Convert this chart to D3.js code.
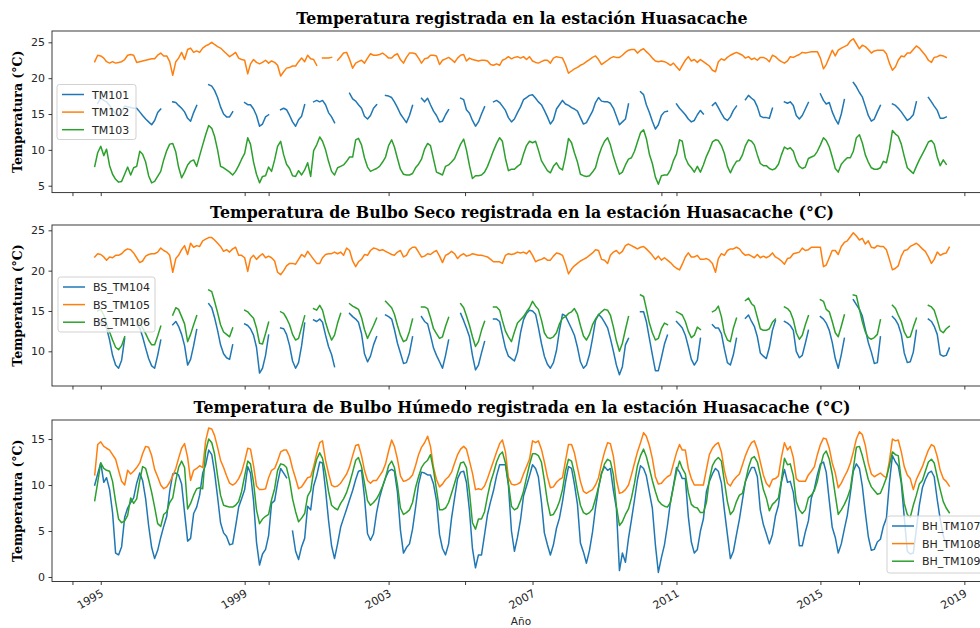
<!DOCTYPE html>
<html><head><meta charset="utf-8">
<script src="https://cdn.jsdelivr.net/npm/d3@7"></script>
<style>html,body{margin:0;padding:0;background:#fff;overflow:hidden}svg{display:block}</style>
</head><body>
<svg id="chart" width="980" height="628"></svg>
<script>
// ---------- DATA (monthly, first value = Nov 1994) ----------
const firstMonth = "1994-11";

const TM101 = [
 null,16.5,
 17.2,16.9,16.7,16.2,15.6,15.0,14.8,15.2,16.1,16.0,15.9,15.8,
 15.8,15.3,14.8,14.3,13.9,13.5,14.1,15.2,15.7,null,null,null,
 16.7,16.6,16.2,15.8,15.3,14.4,14.0,15.2,16.2,null,null,null,
 19.1,18.9,18.3,17.3,16.0,15.0,14.6,14.6,15.3,null,null,null,
 16.6,16.3,16.3,15.7,14.8,13.3,13.6,14.6,14.9,null,null,null,
 15.6,15.8,15.6,14.8,13.9,13.3,14.2,14.7,16.3,null,null,16.7,
 16.9,16.7,16.9,16.3,15.2,14.6,13.8,null,null,null,null,17.9,
 17.1,16.8,16.3,15.8,14.7,14.3,14.8,15.8,16.3,null,null,17.6,
 17.5,17.3,16.7,15.9,15.0,14.4,13.8,14.8,16.2,null,null,17.2,
 16.7,17.2,16.3,15.4,14.8,13.9,14.0,14.9,15.6,null,null,null,
 17.2,17.0,15.6,15.1,14.1,13.3,13.9,15.0,16.0,null,null,16.7,
 16.9,16.6,16.1,15.5,14.5,13.9,14.3,15.2,16.0,17.0,17.3,17.6,
 17.7,17.2,16.7,16.3,15.5,14.6,13.6,14.2,15.7,16.3,16.9,16.4,
 16.2,15.9,15.7,15.4,14.5,13.6,13.8,14.6,15.4,16.6,17.3,16.8,
 16.7,16.7,16.5,15.8,14.7,13.5,13.9,14.3,16.4,null,null,null,
 18.1,17.7,16.3,15.2,14.0,12.9,13.5,14.8,15.3,15.4,null,null,
 16.4,15.8,15.4,14.9,14.3,13.9,14.1,14.9,15.5,15.0,null,null,
 16.2,16.6,15.9,15.1,14.4,14.1,14.6,15.5,16.1,null,null,17.0,
 17.6,17.2,16.9,16.0,14.7,14.5,14.5,14.4,15.8,null,null,null,
 16.7,16.5,16.7,16.2,14.8,14.3,14.8,15.7,16.6,null,null,null,
 17.8,16.9,16.4,16.6,15.3,14.3,13.6,15.0,17.0,null,null,19.4,
 18.8,18.0,17.4,16.1,14.8,14.0,14.3,15.3,16.2,null,null,null,
 16.4,16.2,15.8,15.3,14.7,14.1,14.4,14.9,16.7,null,null,null,
 17.3,16.7,16.1,15.5,14.4,14.4,14.6,null
];
const TM102 = [
 22.3,23.2,
 23.1,22.8,22.3,22.1,22.3,22.1,22.2,22.3,22.6,23.2,23.3,23.2,
 22.2,22.3,22.4,22.5,22.6,22.7,22.7,23.2,23.5,23.1,23.1,22.3,
 20.4,22.3,22.8,23.6,22.6,24.0,24.2,23.6,23.8,23.6,24.2,24.5,
 24.7,25.0,24.7,24.4,24.2,23.8,23.4,23.0,23.3,23.6,22.8,22.6,
 22.5,20.6,22.0,22.6,22.2,22.0,22.2,22.5,22.1,22.4,22.2,21.8,
 20.3,20.9,21.4,21.5,21.7,21.7,22.3,22.8,22.3,23.2,22.7,22.6,
 21.8,null,22.8,22.8,22.8,22.9,null,22.5,23.0,23.5,23.6,22.6,
 21.4,22.1,22.3,22.5,22.1,22.8,23.4,23.2,23.2,23.3,23.5,23.2,
 22.8,22.8,23.2,23.4,22.6,22.1,22.9,23.5,23.5,23.4,22.8,22.1,
 22.7,22.8,23.2,23.2,23.1,21.9,22.5,22.7,22.9,22.6,22.2,22.8,
 23.2,23.3,22.4,22.8,22.6,22.5,22.4,22.5,22.5,22.4,21.9,21.8,
 22.0,21.8,22.5,22.7,23.0,22.7,22.9,23.0,22.8,23.0,22.6,23.0,
 22.4,22.2,22.1,22.3,22.5,22.5,22.1,22.8,23.0,22.9,22.8,21.9,
 20.7,21.0,21.3,21.5,21.8,22.0,22.3,22.6,22.9,23.1,22.6,21.9,
 22.2,22.5,22.8,23.0,22.9,22.9,23.2,23.6,23.9,24.0,24.0,23.5,
 23.9,24.1,23.7,23.3,22.8,22.4,22.3,22.4,22.3,22.1,21.8,22.1,
 21.6,21.1,21.8,22.5,23.0,22.4,22.6,22.2,22.6,22.3,22.0,21.7,
 21.1,20.9,22.3,22.7,22.5,22.9,23.2,23.4,23.6,23.4,23.2,22.8,
 23.0,22.6,22.8,22.5,22.9,22.9,22.7,22.3,23.2,23.0,22.6,22.3,
 22.1,22.4,23.0,22.9,23.1,23.3,23.6,23.5,23.6,23.7,23.7,23.7,
 22.8,21.3,21.9,22.9,23.9,23.1,23.9,24.2,24.4,24.6,25.2,25.5,
 24.8,24.1,24.6,24.4,24.0,23.5,23.8,23.9,23.9,23.9,23.4,22.1,
 21.1,21.6,22.5,23.1,23.0,23.5,23.5,24.0,24.5,24.2,23.7,23.2,
 22.5,22.2,22.9,23.0,23.2,23.1,22.9,null
];
const TM103 = [
 7.7,9.6,
 10.5,9.2,10.1,7.8,6.6,5.9,5.5,5.6,6.6,7.6,6.5,7.5,
 7.7,9.8,9.4,8.3,6.4,5.4,5.6,6.3,7.0,8.6,9.9,10.8,
 10.9,9.7,7.6,6.1,6.9,7.9,8.4,8.6,7.7,9.2,10.7,12.1,
 13.4,13.0,11.9,10.0,7.7,7.5,7.2,6.9,6.5,7.0,7.8,8.7,
 9.5,11.7,10.8,8.3,6.6,5.4,6.3,6.4,7.6,7.0,8.6,10.5,
 11.2,9.3,8.0,7.4,6.4,6.3,7.1,6.5,7.2,8.2,6.3,9.9,
 10.7,11.8,11.2,10.0,8.4,7.0,6.5,7.5,7.7,7.9,8.4,9.0,
 9.0,11.4,11.6,10.7,8.9,7.6,7.0,7.2,7.4,7.7,8.3,9.0,
 10.6,11.4,10.4,8.8,7.3,6.6,6.5,6.5,6.7,7.5,8.0,8.7,
 10.1,10.9,10.6,8.7,6.9,6.7,6.5,7.7,7.9,8.3,8.8,9.8,
 10.8,11.5,10.0,7.8,6.0,6.4,6.4,6.5,6.9,7.7,8.8,9.9,
 10.9,11.7,11.2,8.8,7.1,7.3,7.3,7.7,8.0,9.4,10.6,11.2,
 11.0,11.2,10.0,8.5,7.8,7.1,6.8,7.7,8.2,7.5,7.2,9.1,
 11.6,11.0,9.6,8.3,6.6,6.4,6.3,6.4,6.9,7.5,9.1,10.3,
 11.2,11.7,10.7,9.1,7.8,6.6,6.9,7.9,8.7,8.9,9.8,11.1,
 12.4,12.8,11.6,9.4,8.1,6.2,5.2,6.4,6.5,6.5,7.2,8.5,
 9.4,11.4,11.2,8.9,8.0,7.5,6.9,7.7,6.9,7.9,9.1,10.0,
 11.1,11.4,11.3,10.6,9.5,7.7,6.8,7.7,8.4,8.5,9.3,10.6,
 11.4,11.2,10.7,9.3,8.1,7.8,7.8,7.4,7.2,7.4,8.0,9.3,
 10.4,10.1,10.3,9.8,8.5,7.7,7.4,7.6,8.8,9.0,9.2,9.8,
 10.7,11.7,11.3,10.4,9.0,7.4,6.9,8.0,8.5,8.9,8.9,9.8,
 11.7,12.1,11.0,9.3,8.3,7.5,7.3,7.3,7.5,8.4,8.2,10.0,
 12.7,12.2,11.9,10.8,9.1,7.5,7.1,6.7,7.7,8.6,9.4,10.2,
 11.1,11.3,10.8,9.0,7.8,8.6,8.0,null
];
const BS_TM104 = [
 null,13.5,
 13.6,13.3,12.9,11.4,9.5,8.3,7.9,8.9,11.6,null,null,null,
 13.3,12.9,11.8,10.4,9.1,8.2,7.9,9.5,11.4,null,null,null,
 13.3,13.7,13.1,12.1,10.7,8.3,9.0,10.7,12.7,null,null,null,
 15.9,15.4,14.2,12.6,10.8,9.7,9.2,9.0,10.8,null,null,null,
 13.4,13.2,12.8,12.0,10.5,7.3,7.9,9.5,12.0,null,null,null,
 12.9,12.8,12.1,10.7,8.8,7.9,8.6,10.7,13.5,null,null,13.9,
 13.7,14.0,13.6,12.0,10.6,9.6,8.1,null,null,null,null,14.7,
 14.3,14.0,13.6,12.2,9.7,8.7,9.4,10.8,11.8,null,null,14.5,
 14.3,14.0,12.7,11.0,9.8,8.5,8.6,9.8,11.8,null,null,14.3,
 13.7,13.4,12.0,10.4,9.5,8.7,7.9,9.5,11.4,null,null,null,
 14.7,13.8,12.9,11.8,9.5,7.7,8.3,9.8,11.2,null,null,14.0,
 14.0,13.7,12.1,10.4,9.4,9.1,8.8,9.9,12.3,13.9,14.7,15.1,
 15.0,14.6,13.0,11.0,9.4,8.4,7.9,8.6,10.1,12.6,14.6,14.4,
 13.6,12.8,12.0,10.5,8.7,7.9,8.3,9.6,11.6,13.8,14.6,14.2,
 13.6,12.9,11.6,10.0,8.3,7.1,8.1,10.8,11.6,null,null,null,
 14.9,14.9,13.7,11.6,9.6,7.6,7.6,9.2,10.9,12.0,null,null,
 13.7,13.3,12.9,12.0,10.6,9.0,8.3,8.9,11.6,null,null,null,
 13.3,12.9,12.9,12.2,10.3,8.6,8.3,9.6,11.6,null,null,14.1,
 14.5,13.7,13.1,11.8,9.8,9.4,9.1,10.5,12.6,13.8,null,null,
 13.7,13.5,13.2,12.6,10.0,9.2,9.5,11.0,12.6,null,null,null,
 14.3,14.0,13.5,12.6,11.1,9.1,7.9,9.6,11.6,null,null,16.4,
 15.8,15.2,14.4,12.7,11.1,9.9,8.5,8.6,11.8,null,null,null,
 14.3,13.9,13.3,12.1,9.8,8.6,8.7,9.9,12.6,null,null,null,
 14.0,13.7,13.1,12.1,9.6,9.4,9.5,10.4
];
const BS_TM105 = [
 21.7,22.1,
 22.0,21.7,21.3,21.7,21.6,21.9,21.9,22.1,22.5,22.7,22.6,22.2,
 21.6,21.0,21.2,21.8,22.0,22.1,22.1,22.3,22.8,22.5,22.3,21.9,
 19.8,21.5,21.9,22.6,23.1,22.0,23.4,22.9,23.1,23.0,23.7,23.9,
 24.1,24.1,23.8,23.4,23.0,22.4,22.6,22.3,22.7,22.9,21.9,21.9,
 21.6,19.9,21.5,21.9,21.4,21.8,22.1,21.6,21.8,21.6,21.2,19.8,
 19.5,20.0,20.6,20.9,20.9,20.8,21.4,22.0,21.7,22.4,21.9,21.4,
 20.9,20.9,21.6,22.0,22.1,22.1,22.3,22.1,22.3,21.9,22.8,22.5,
 21.2,20.5,21.1,21.4,22.0,21.9,22.5,22.8,22.7,22.5,22.6,22.4,
 22.2,22.0,21.9,22.3,22.5,21.7,21.9,22.6,22.9,22.9,22.3,21.7,
 21.8,22.1,22.0,22.3,22.5,21.8,21.0,21.9,22.1,22.4,22.1,21.5,
 21.9,22.1,21.8,21.9,22.1,22.0,21.9,21.9,21.8,21.7,21.4,21.1,
 21.1,21.1,20.9,21.9,22.1,22.0,22.1,22.3,22.2,22.3,22.1,22.5,
 21.9,21.1,21.3,21.4,21.6,21.3,21.3,21.8,22.2,22.1,21.9,20.9,
 19.6,20.2,20.6,20.9,21.2,21.4,21.6,21.9,22.2,22.6,22.5,21.4,
 21.3,20.9,21.9,22.3,22.5,22.1,22.4,23.1,23.3,23.1,22.9,22.7,
 22.9,23.0,22.7,22.3,21.9,21.4,21.8,21.3,21.6,21.3,21.0,20.6,
 20.3,20.1,20.8,21.7,22.2,21.7,21.7,21.9,21.4,21.4,21.5,21.3,
 20.9,19.8,21.5,22.1,21.9,22.5,22.7,22.7,22.9,22.7,22.2,21.9,
 22.0,21.8,21.6,22.0,21.6,21.8,21.6,21.8,22.2,21.7,21.5,21.2,
 20.8,21.5,21.6,22.1,22.2,22.3,22.8,22.5,22.6,22.9,22.9,22.9,
 22.9,20.5,20.7,21.6,22.5,22.5,22.0,23.0,23.5,23.7,24.2,24.7,
 24.3,23.8,24.0,23.3,23.7,22.9,22.8,23.1,23.0,23.0,22.6,21.4,
 20.1,20.3,20.6,21.8,22.5,22.6,23.0,23.2,23.4,23.1,22.7,22.4,
 21.7,20.9,21.4,22.3,21.9,22.1,22.2,22.9
];
const BS_TM106 = [
 null,15.0,
 15.2,14.5,13.4,12.4,11.4,10.5,10.2,10.7,11.8,null,null,null,
 13.8,13.5,12.9,12.2,11.4,10.8,10.8,11.9,13.1,null,null,null,
 14.5,15.4,15.2,14.3,13.4,11.2,12.1,13.3,14.4,null,null,null,
 17.6,17.4,16.2,14.8,13.3,12.4,12.1,11.8,12.9,null,null,null,
 15.1,14.9,14.5,14.1,12.9,11.0,10.9,12.2,13.6,null,null,null,
 14.9,14.7,14.1,13.3,12.1,11.4,11.6,13.0,14.4,null,null,15.3,
 15.1,15.7,15.1,13.6,12.4,11.4,12.0,13.5,14.7,null,null,15.9,
 15.6,15.4,15.2,14.2,12.7,11.6,12.4,13.2,14.1,null,null,16.2,
 15.8,15.4,14.6,13.2,12.0,11.2,11.4,12.5,14.0,null,null,15.5,
 15.5,15.3,14.2,12.8,12.2,11.6,11.8,13.1,14.2,null,null,null,
 15.9,15.4,14.4,13.2,11.8,10.6,11.2,12.6,13.7,null,null,15.5,
 15.5,15.1,13.8,12.5,11.8,11.2,12.4,13.5,13.9,14.3,14.9,15.4,
 16.2,15.6,15.2,13.9,12.3,11.7,11.6,11.8,12.3,13.4,14.1,14.3,
 14.7,14.9,15.3,14.6,13.2,11.9,11.4,12.1,13.3,14.0,14.5,14.9,
 15.2,15.1,14.5,13.0,11.3,10.0,11.0,12.7,14.3,null,null,null,
 17.0,16.8,15.3,13.5,12.3,11.4,11.6,12.8,13.5,13.3,null,null,
 14.9,14.7,14.5,13.7,12.5,11.7,12.0,13.0,12.7,null,null,null,
 14.9,15.1,15.6,14.3,12.3,11.4,11.2,12.9,14.1,null,null,16.3,
 16.6,15.9,15.6,14.2,12.8,12.6,12.6,12.8,13.6,14.0,null,null,
 15.5,15.3,14.9,13.9,12.3,11.5,12.0,13.3,14.4,null,null,null,
 16.4,16.2,15.2,14.9,13.7,12.3,11.8,13.1,14.5,null,null,17.0,
 16.9,15.2,13.7,12.4,11.7,11.5,11.7,12.1,13.9,null,null,null,
 15.7,15.3,14.5,13.7,12.4,11.7,11.8,13.0,14.1,null,null,null,
 15.7,15.5,15.1,13.9,12.6,12.3,12.8,13.1
];
const BH_TM107 = [
 10.0,11.2,
 12.4,10.3,10.8,9.5,7.0,2.6,2.4,3.3,6.5,7.5,8.1,8.6,
 10.2,11.3,10.5,8.5,5.6,3.2,2.0,2.9,4.3,5.5,6.6,9.3,
 11.2,11.3,11.1,10.1,7.0,3.9,4.2,6.9,7.6,8.9,11.3,12.2,
 13.8,13.3,11.4,8.7,5.9,4.8,4.4,3.5,3.6,5.5,7.6,8.5,
 9.5,12.0,11.3,8.3,3.8,1.3,2.5,3.0,4.5,8.0,8.3,10.2,
 11.8,11.3,10.8,null,5.0,2.8,1.9,3.3,4.2,7.7,7.3,9.9,
 11.0,12.5,12.4,9.5,6.2,3.4,2.0,3.6,5.4,6.4,7.4,8.4,
 9.4,10.6,11.5,11.6,8.7,4.7,4.0,4.7,7.0,8.6,9.8,10.8,
 11.5,11.7,11.5,9.2,5.1,2.6,3.2,3.6,5.2,7.5,10.1,11.4,
 11.3,11.1,11.1,10.1,8.3,4.6,3.1,2.4,3.6,6.4,8.6,10.7,
 11.4,11.5,10.3,7.2,3.1,1.0,2.4,2.4,4.6,6.8,8.2,9.4,
 11.0,12.2,12.2,12.2,10.0,5.0,2.8,4.3,6.2,8.8,9.9,11.0,
 12.2,11.8,10.9,8.2,4.8,3.5,2.4,3.5,5.3,6.4,8.2,10.3,
 12.0,11.8,10.1,7.9,3.7,2.7,1.5,2.9,4.9,7.5,9.7,11.3,
 12.0,11.6,11.8,9.4,7.5,0.7,2.6,1.6,4.2,6.2,8.4,10.6,
 12.1,11.8,11.0,9.2,7.5,3.5,0.5,2.1,3.5,5.6,8.2,9.9,
 11.9,11.4,10.7,10.7,6.6,3.8,2.6,3.0,5.0,6.3,9.3,10.4,
 11.2,11.8,11.5,10.2,7.3,4.6,2.0,2.8,4.6,6.3,8.4,10.4,
 11.2,11.9,11.9,10.9,7.3,5.7,4.7,3.6,4.6,6.6,7.8,10.3,
 11.7,10.3,10.4,9.2,6.5,3.4,3.4,4.9,6.1,8.6,9.6,11.1,
 12.3,12.5,11.4,8.3,5.4,4.3,2.6,3.6,5.2,6.7,9.1,11.5,
 12.3,11.8,9.9,7.0,4.4,2.9,3.0,3.8,4.1,5.5,6.4,10.2,
 13.2,12.5,12.1,10.2,6.5,2.8,2.5,2.6,5.2,7.8,9.7,10.6,
 11.3,11.5,10.9,8.4,6.3,4.5,3.5,null
];
const BH_TM108 = [
 11.1,14.4,
 14.7,14.2,14.0,13.8,13.3,12.8,11.6,10.4,10.0,11.6,11.2,11.5,
 11.9,12.4,13.4,14.2,14.1,13.2,11.7,10.9,10.0,9.6,9.8,10.3,
 11.0,11.8,12.9,14.0,14.5,13.0,10.5,11.6,11.8,12.1,11.9,14.8,
 16.2,16.1,15.4,14.1,12.7,11.9,11.0,10.2,10.0,10.2,10.7,11.4,
 12.6,14.0,13.9,12.1,9.9,9.5,9.5,9.6,10.8,11.6,11.8,12.6,
 13.6,13.8,13.8,13.1,11.8,10.7,9.6,9.8,10.3,10.8,10.9,12.0,
 13.4,14.6,14.8,12.7,11.3,10.0,9.8,9.9,10.2,10.7,11.2,12.0,
 13.2,14.3,14.4,13.2,11.6,10.5,10.2,10.5,10.5,11.0,11.5,12.3,
 13.7,14.9,14.2,12.8,11.0,10.4,10.5,10.7,11.1,12.1,13.3,14.1,
 14.6,15.3,14.2,11.9,10.6,9.8,10.1,10.6,10.9,11.4,12.4,13.3,
 13.9,14.2,13.9,12.6,11.3,9.5,9.6,9.5,9.9,10.7,11.7,12.6,
 13.6,14.5,14.9,13.6,10.8,10.1,10.0,10.1,10.3,11.2,12.0,12.8,
 14.8,14.6,14.8,13.9,12.5,10.9,9.7,9.8,10.3,10.6,10.8,12.6,
 14.4,14.4,13.5,11.9,10.4,9.3,9.1,9.3,9.5,10.0,10.8,12.3,
 13.6,14.6,14.5,13.1,10.6,9.1,9.2,9.5,10.0,11.1,12.4,13.6,
 14.6,15.7,15.3,14.3,12.9,10.9,10.1,10.2,10.6,10.9,11.1,12.3,
 13.5,14.4,13.8,13.8,11.8,10.7,10.0,10.0,10.0,10.0,11.7,13.3,
 14.0,14.4,14.6,13.6,11.6,10.2,9.9,10.5,10.9,11.2,12.2,13.2,
 14.0,14.6,14.8,13.9,12.5,11.1,10.2,9.8,10.6,10.7,11.0,13.0,
 14.6,13.8,14.2,13.0,10.7,10.4,10.4,10.4,11.1,11.5,12.0,13.3,
 14.4,15.1,15.0,14.0,12.4,11.3,9.7,10.2,10.9,11.5,12.4,13.6,
 15.0,15.8,15.5,14.3,12.4,11.2,10.9,11.1,11.3,11.0,10.8,12.6,
 15.0,14.8,14.9,13.6,12.0,11.1,10.7,9.5,10.6,11.3,12.0,12.9,
 13.8,14.4,14.2,13.1,11.6,10.7,10.4,9.9
];
const BH_TM109 = [
 8.3,10.3,
 12.4,11.8,11.6,11.5,10.4,8.2,6.3,5.9,6.1,6.7,8.6,8.0,
 8.5,10.5,12.0,11.8,10.6,9.2,7.6,5.8,5.5,6.8,7.1,8.1,
 8.6,10.5,11.9,12.6,11.9,7.4,8.0,8.9,9.6,9.7,9.6,13.7,
 15.0,14.6,13.4,11.0,8.9,7.8,7.7,7.6,7.6,7.8,8.2,9.3,
 11.0,12.6,12.3,10.3,7.3,5.8,6.3,6.6,6.8,8.4,9.6,11.6,
 12.3,12.2,11.9,10.5,8.5,7.1,6.0,6.4,6.9,8.8,9.4,11.5,
 12.8,13.5,12.9,11.3,9.3,7.8,7.5,7.3,8.0,8.5,9.2,10.2,
 11.4,12.7,13.0,12.0,10.2,8.3,7.8,8.1,8.5,9.1,9.9,10.8,
 12.1,12.6,11.9,10.0,7.5,6.8,7.0,7.3,8.1,9.7,10.9,11.9,
 12.4,12.7,13.3,11.6,9.5,7.3,7.3,7.5,8.1,9.1,10.2,11.3,
 12.4,12.5,11.9,9.2,5.9,5.2,6.3,6.3,7.1,8.8,10.3,11.3,
 12.5,13.3,13.6,12.4,10.2,7.7,7.3,7.5,8.3,9.3,10.8,12.2,
 13.4,13.4,13.2,12.5,10.5,8.2,6.7,6.8,7.4,8.2,9.5,11.5,
 12.8,12.6,11.3,9.4,7.8,7.0,6.8,7.0,7.4,8.5,9.8,11.2,
 12.3,12.8,12.6,11.1,7.7,5.6,6.0,6.8,7.4,8.6,10.2,12.1,
 13.2,13.9,13.1,11.8,10.5,9.3,8.3,7.9,7.7,7.6,8.1,9.8,
 11.4,12.6,11.8,11.2,9.2,7.9,7.6,7.5,7.0,7.0,8.1,10.6,
 12.1,12.7,13.0,12.6,10.4,8.2,6.8,7.2,8.2,8.9,9.1,10.4,
 11.9,12.9,13.1,12.5,11.1,9.5,8.6,7.2,7.9,8.2,8.6,10.5,
 12.9,12.2,12.3,11.0,8.2,7.3,6.9,7.3,8.6,8.9,9.4,10.4,
 12.0,13.3,13.7,12.8,11.2,8.9,6.8,7.3,7.9,8.6,9.6,11.8,
 14.1,14.2,13.2,11.9,10.6,9.8,9.4,9.0,9.1,9.9,10.8,12.1,
 13.6,13.3,13.2,10.5,8.0,6.8,6.5,7.8,8.9,10.1,10.5,11.5,
 12.5,12.8,12.4,10.9,9.5,8.2,7.5,7.0
];

// ---------- AXIS TICKS / LABELS ----------
const xTickYears = [1995, 1999, 2003, 2007, 2011, 2015, 2019];
const xExtraTicks = ["1994-03-20", "1999-09-01", "2005-02-15", "2010-08-01", "2016-01-28"];
const yTicks1 = [5, 10, 15, 20, 25];
const yTicks2 = [10, 15, 20, 25];
const yTicks3 = [0, 5, 10, 15];
const titles = [
  "Temperatura registrada en la estación Huasacache",
  "Temperatura de Bulbo Seco registrada en la estación Huasacache (°C)",
  "Temperatura de Bulbo Húmedo registrada en la estación Huasacache (°C)"
];
const yLabel = "Temperatura (°C)";
const xLabel = "Año";

// ---------- LAYOUT ----------
const colors = ["#1f77b4", "#ff7f0e", "#2ca02c"];
const axL = 52, axR = 992;
const panels = [
  { top: 31,  bottom: 192.6, yLim: [4.04, 26.58], ticks: yTicks1,
    series: [["TM101", TM101], ["TM102", TM102], ["TM103", TM103]],
    legend: { x: 57, y: 84.5, w: 79, h: 55 } },
  { top: 225, bottom: 386,   yLim: [5.70, 25.66], ticks: yTicks2,
    series: [["BS_TM104", BS_TM104], ["BS_TM105", BS_TM105], ["BS_TM106", BS_TM106]],
    legend: { x: 58, y: 277, w: 97, h: 55 } },
  { top: 420, bottom: 581.5, yLim: [-0.49, 17.07], ticks: yTicks3,
    series: [["BH_TM107", BH_TM107], ["BH_TM108", BH_TM108], ["BH_TM109", BH_TM109]],
    legend: { x: 887, y: 516, w: 110, h: 57 } }
];

const parseM = d3.timeParse("%Y-%m");
const parseD = d3.timeParse("%Y-%m-%d");
const start = parseM(firstMonth);
const months = d3.range(TM101.length).map(i => d3.timeMonth.offset(start, i));
const ext = d3.extent(months);
const pad = (ext[1] - ext[0]) * 0.05;
const x = d3.scaleTime()
  .domain([new Date(+ext[0] - pad), new Date(+ext[1] + pad)])
  .range([axL, axR]);

const majorDates = xTickYears.map(yv => new Date(yv, 0, 1));
const extraDates = xExtraTicks.map(parseD);

const svg = d3.select("#chart");
svg.append("rect").attr("width", 980).attr("height", 628).attr("fill", "#fff");

const SANS = "'DejaVu Sans', sans-serif";
const SERIF = "'DejaVu Serif', serif";
const INK = "#262626";

panels.forEach((p, pi) => {
  const y = d3.scaleLinear().domain(p.yLim).range([p.bottom, p.top]);
  const g = svg.append("g");

  const clipId = "clip" + pi;
  g.append("clipPath").attr("id", clipId)
    .append("rect").attr("x", axL).attr("y", p.top)
    .attr("width", axR - axL).attr("height", p.bottom - p.top);

  const line = d3.line()
    .defined(d => d.v != null)
    .x(d => x(d.d)).y(d => y(d.v));

  const lg = g.append("g").attr("clip-path", `url(#${clipId})`);
  p.series.forEach(([name, vals], si) => {
    lg.append("path")
      .datum(vals.map((v, i) => ({ d: months[i], v })))
      .attr("d", line)
      .attr("fill", "none")
      .attr("stroke", colors[si])
      .attr("stroke-width", 1.5)
      .attr("stroke-linejoin", "round")
      .attr("stroke-linecap", "square");
  });

  // spines
  g.append("rect").attr("x", axL).attr("y", p.top)
    .attr("width", axR - axL).attr("height", p.bottom - p.top)
    .attr("fill", "none").attr("stroke", INK).attr("stroke-width", 0.9);

  // y axis
  const ya = g.append("g").attr("transform", `translate(${axL},0)`)
    .call(d3.axisLeft(y).tickValues(p.ticks).tickSize(3.5).tickPadding(3.5).tickFormat(d3.format("d")));
  ya.select(".domain").remove();
  ya.selectAll("line").attr("stroke", INK).attr("stroke-width", 0.9);
  ya.selectAll("text").attr("font-family", SANS).attr("font-size", 11).attr("fill", INK);

  // x axis
  const last = pi === panels.length - 1;
  const xa = g.append("g").attr("transform", `translate(0,${p.bottom})`)
    .call(d3.axisBottom(x).tickValues(majorDates.concat(extraDates)).tickSize(3.5)
      .tickFormat(d => (last && majorDates.some(m => +m === +d)) ? d3.timeFormat("%Y")(d) : ""));
  xa.select(".domain").remove();
  xa.selectAll("line").attr("stroke", INK).attr("stroke-width", 0.9);
  xa.selectAll("text")
    .attr("font-family", SANS).attr("font-size", 11).attr("fill", INK)
    .attr("text-anchor", "end").attr("dy", null).attr("y", null)
    .attr("transform", "translate(3,14) rotate(-30)");

  // title
  g.append("text").attr("x", (axL + axR) / 2).attr("y", p.top - 7)
    .attr("text-anchor", "middle")
    .attr("font-family", SERIF).attr("font-weight", "bold").attr("font-size", 15.8)
    .attr("fill", "#000").text(titles[pi]);

  // y label
  g.append("text")
    .attr("transform", `translate(22,${(p.top + p.bottom) / 2}) rotate(-90)`)
    .attr("text-anchor", "middle")
    .attr("font-family", SERIF).attr("font-weight", "bold").attr("font-size", 12.5)
    .attr("fill", "#000").text(yLabel);

  // legend
  const L = p.legend;
  const leg = g.append("g");
  leg.append("rect").attr("x", L.x).attr("y", L.y).attr("width", L.w).attr("height", L.h)
    .attr("rx", 2.5).attr("fill", "#fff").attr("fill-opacity", 0.8)
    .attr("stroke", "#cccccc").attr("stroke-width", 0.9);
  p.series.forEach(([name], si) => {
    const ry = L.y + 10 + si * 17.6;
    leg.append("line").attr("x1", L.x + 5).attr("x2", L.x + 27).attr("y1", ry).attr("y2", ry)
      .attr("stroke", colors[si]).attr("stroke-width", 1.5);
    leg.append("text").attr("x", L.x + 35).attr("y", ry + 4)
      .attr("font-family", SANS).attr("font-size", 11).attr("fill", INK).text(name);
  });
});

svg.append("text").attr("x", (axL + axR) / 2 - 1).attr("y", 625)
  .attr("text-anchor", "middle").attr("font-family", SANS).attr("font-size", 10.5)
  .attr("fill", INK).text(xLabel);
</script>
</body></html>
